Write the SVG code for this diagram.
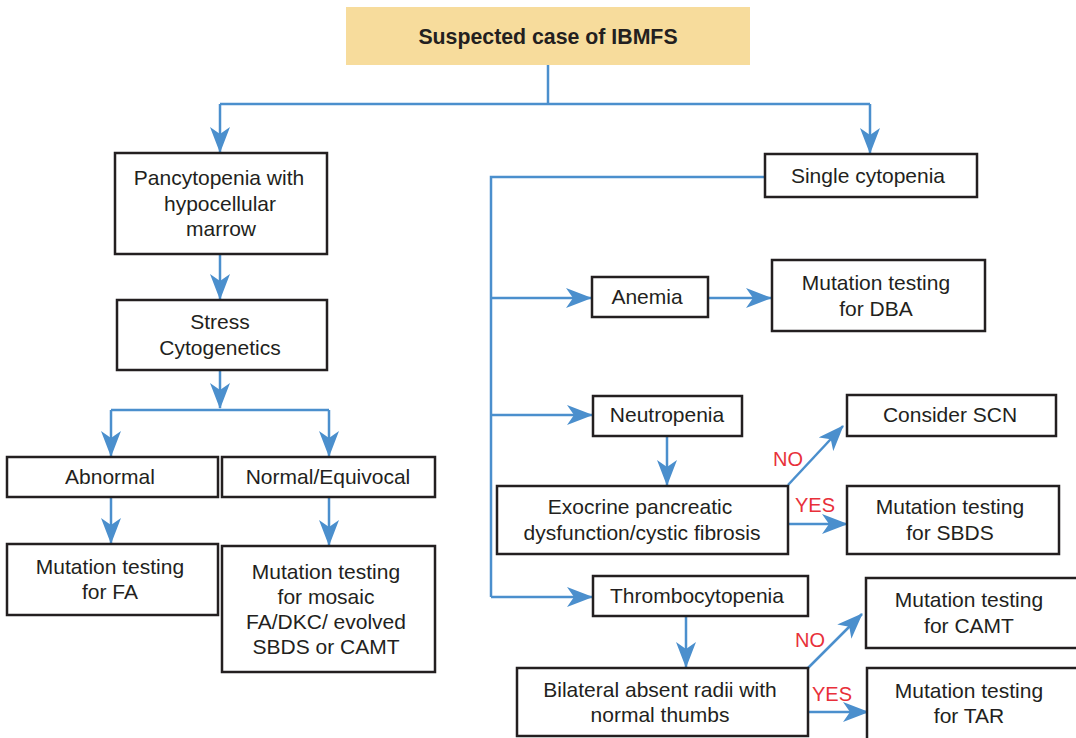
<svg xmlns="http://www.w3.org/2000/svg" width="1076" height="738" viewBox="0 0 1076 738">
<style>
.box{fill:#fff;stroke:#231f20;stroke-width:2.5}
.t{font-family:"Liberation Sans",Arial,sans-serif;font-size:21px;fill:#231f20;text-anchor:middle}
.b{font-weight:bold;font-size:21.3px}
.lbl{font-family:"Liberation Sans",Arial,sans-serif;font-size:20px;fill:#e8303a;text-anchor:middle}
.c{fill:none;stroke:#4b8fcd;stroke-width:2.5}
</style>
<defs>
<marker id="ar" markerUnits="userSpaceOnUse" markerWidth="26" markerHeight="20" refX="25" refY="10" orient="auto" viewBox="0 0 26 20">
<path d="M0,0 L26,10 L0,20 L7,10 Z" fill="#4b8fcd"/>
</marker>
</defs>
<rect width="1076" height="738" fill="#fff"/>
<g id="connectors">
<path class="c" d="M548,65 V104"/>
<path class="c" d="M220,104 H870"/>
<path class="c" d="M220,104 V152" marker-end="url(#ar)"/>
<path class="c" d="M870,104 V153" marker-end="url(#ar)"/>
<path class="c" d="M220,254 V299" marker-end="url(#ar)"/>
<path class="c" d="M220,370 V408" marker-end="url(#ar)"/>
<path class="c" d="M111,410 H329"/>
<path class="c" d="M111,410 V456" marker-end="url(#ar)"/>
<path class="c" d="M329,410 V456" marker-end="url(#ar)"/>
<path class="c" d="M111,497 V543" marker-end="url(#ar)"/>
<path class="c" d="M329,497 V545" marker-end="url(#ar)"/>
<path class="c" d="M765,177 H491 V597"/>
<path class="c" d="M491,298 H591" marker-end="url(#ar)"/>
<path class="c" d="M704,298 H771" marker-end="url(#ar)"/>
<path class="c" d="M491,415 H592" marker-end="url(#ar)"/>
<path class="c" d="M667,436 V485" marker-end="url(#ar)"/>
<path class="c" d="M788,485 L843,426" marker-end="url(#ar)"/>
<path class="c" d="M788,524 H847" marker-end="url(#ar)"/>
<path class="c" d="M491,597 H592" marker-end="url(#ar)"/>
<path class="c" d="M686,616 V667" marker-end="url(#ar)"/>
<path class="c" d="M808,668 L862,614" marker-end="url(#ar)"/>
<path class="c" d="M808,712 H868" marker-end="url(#ar)"/>
</g>
<g id="n-top"><rect x="346" y="7" width="404" height="58" fill="#f7dc9c"/><text class="t b" x="548" y="44">Suspected case of IBMFS</text></g>
<g id="n-pancy"><rect class="box" x="115" y="153" width="212" height="101"/><text class="t" x="219" y="185">Pancytopenia with</text><text class="t" x="220" y="211">hypocellular</text><text class="t" x="221" y="236">marrow</text></g>
<g id="n-stress"><rect class="box" x="117" y="300" width="210" height="70"/><text class="t" x="220" y="329">Stress</text><text class="t" x="220" y="355">Cytogenetics</text></g>
<g id="n-abn"><rect class="box" x="7" y="457" width="211" height="40"/><text class="t" x="110" y="484">Abnormal</text></g>
<g id="n-norm"><rect class="box" x="222" y="457" width="213" height="40"/><text class="t" x="328" y="484">Normal/Equivocal</text></g>
<g id="n-fa"><rect class="box" x="7" y="544" width="211" height="71"/><text class="t" x="110" y="574">Mutation testing</text><text class="t" x="110" y="599">for FA</text></g>
<g id="n-mosaic"><rect class="box" x="222" y="546" width="213" height="126"/><text class="t" x="326" y="579">Mutation testing</text><text class="t" x="326" y="604">for mosaic</text><text class="t" x="326" y="629">FA/DKC/ evolved</text><text class="t" x="326" y="654">SBDS or CAMT</text></g>
<g id="n-single"><rect class="box" x="765" y="154" width="212" height="43"/><text class="t" x="868" y="183">Single cytopenia</text></g>
<g id="n-anemia"><rect class="box" x="592" y="277" width="116" height="40"/><text class="t" x="647" y="304">Anemia</text></g>
<g id="n-dba"><rect class="box" x="772" y="260" width="213" height="71"/><text class="t" x="876" y="290">Mutation testing</text><text class="t" x="876" y="316">for DBA</text></g>
<g id="n-neut"><rect class="box" x="593" y="396" width="149" height="40"/><text class="t" x="667" y="422">Neutropenia</text></g>
<g id="n-exo"><rect class="box" x="497" y="486" width="291" height="68"/><text class="t" x="640" y="514">Exocrine pancreatic</text><text class="t" x="642" y="540">dysfunction/cystic fibrosis</text></g>
<g id="n-scn"><rect class="box" x="847" y="395" width="209" height="41"/><text class="t" x="950" y="422">Consider SCN</text></g>
<g id="n-sbds"><rect class="box" x="847" y="486" width="212" height="68"/><text class="t" x="950" y="514">Mutation testing</text><text class="t" x="950" y="540">for SBDS</text></g>
<g id="n-thromb"><rect class="box" x="593" y="576" width="215" height="40"/><text class="t" x="697" y="603">Thrombocytopenia</text></g>
<g id="n-bil"><rect class="box" x="517" y="668" width="291" height="68"/><text class="t" x="660" y="697">Bilateral absent radii with</text><text class="t" x="660" y="722">normal thumbs</text></g>
<g id="n-camt"><rect class="box" x="866" y="578" width="212" height="70"/><text class="t" x="969" y="607">Mutation testing</text><text class="t" x="969" y="633">for CAMT</text></g>
<g id="n-tar"><rect class="box" x="867" y="668" width="212" height="72"/><text class="t" x="969" y="698">Mutation testing</text><text class="t" x="969" y="723">for TAR</text></g>
<g id="labels">
<text class="lbl" x="788" y="466">NO</text>
<text class="lbl" x="815" y="512">YES</text>
<text class="lbl" x="810" y="647">NO</text>
<text class="lbl" x="832" y="701">YES</text>
</g>
</svg>
